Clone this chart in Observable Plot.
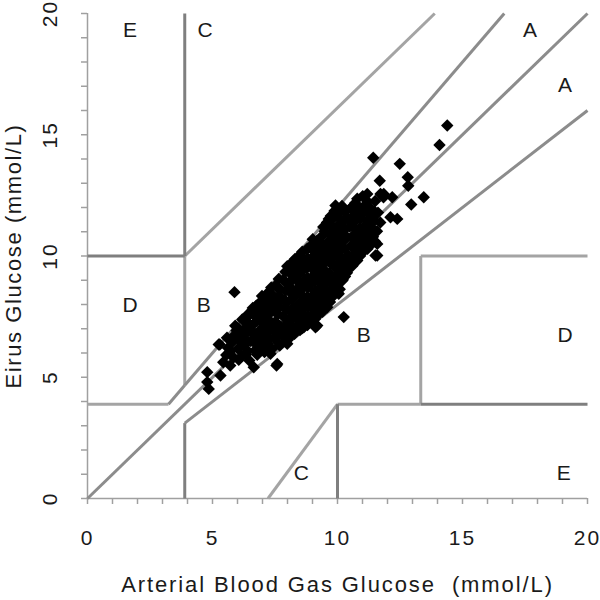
<!DOCTYPE html>
<html><head><meta charset="utf-8">
<script src="https://cdn.jsdelivr.net/npm/d3@7"></script>
<script src="https://cdn.jsdelivr.net/npm/@observablehq/plot@0.6"></script>
<style>body{margin:0;background:#fff}</style>
</head><body><div id="chart"></div>
<script>
// Tick labels (mmol/L)
const xTicks = [0, 5, 10, 15, 20];
const yTicks = [0, 5, 10, 15, 20];
const minorTicks = [0,1,2,3,4,5,6,7,8,9,10,11,12,13,14,15,16,17,18,19,20];

// Clarke error grid boundaries (mmol/L)
const diagonalLines = [
  {x1: 0, y1: 0, x2: 20, y2: 20},
  {x1: 3.24, y1: 3.89, x2: 3.89, y2: 4.67},
  {x1: 3.89, y1: 4.67, x2: 16.67, y2: 20},
  {x1: 3.89, y1: 3.11, x2: 20, y2: 16}
];
const lightLines = [
  {x1: 3.89, y1: 10, x2: 13.89, y2: 20},
  {x1: 3.89, y1: 4.67, x2: 3.89, y2: 10},
  {x1: 0, y1: 3.89, x2: 3.24, y2: 3.89},
  {x1: 7.22, y1: 0, x2: 10, y2: 3.89},
  {x1: 10, y1: 3.89, x2: 13.33, y2: 3.89},
  {x1: 13.33, y1: 3.89, x2: 13.33, y2: 10},
  {x1: 13.33, y1: 10, x2: 20, y2: 10}
];
const darkLines = [
  {x1: 3.89, y1: 10, x2: 3.89, y2: 20},
  {x1: 0, y1: 10, x2: 3.89, y2: 10},
  {x1: 3.89, y1: 0, x2: 3.89, y2: 3.11},
  {x1: 10, y1: 0, x2: 10, y2: 3.89},
  {x1: 13.33, y1: 3.89, x2: 20, y2: 3.89}
];

// Zone labels
const zoneNames = ["E", "C", "A", "A", "D", "B", "B", "D", "C", "E"];
const zoneX = [1.7, 4.7, 17.7, 19.1, 1.7, 4.65, 11.05, 19.1, 8.55, 19.05];
const zoneY = [19.3, 19.3, 19.3, 17.05, 7.95, 7.95, 6.72, 6.72, 1.05, 1.05];

// Measurements: [arterial blood gas glucose, Eirus glucose]
const outliers = [
  [14.39,15.38],[14.08,14.58],[12.49,13.80],[11.69,13.10],[11.43,14.05],[12.81,13.25],
  [12.83,12.90],[13.45,12.42],[12.95,12.12],[11.84,12.42],[11.59,10.02],[11.59,10.50],
  [12.39,11.53],[9.92,12.08],[9.65,11.53],[10.79,12.36],[11.19,12.56],[11.72,12.56],
  [12.19,12.42],[11.85,12.56],[12.12,11.60],[11.32,11.05],[11.52,10.02],[10.25,7.48],
  [9.12,7.06],[5.88,8.51],[5.25,6.35],[4.79,5.21],[4.85,4.52],[4.79,4.80],[5.32,5.07],
  [5.43,5.62],[6.05,5.72],[6.65,5.41],[7.56,5.48],[7.59,5.55],[6.59,7.75],[6.12,6.79],
  [5.29,6.35],[7.32,5.97],[7.99,6.38],[8.65,7.06],[9.19,7.13],[9.59,7.89],[10.05,8.44],
  [10.19,8.99],[10.39,9.40],[10.79,9.81]
];
const cluster = [
  [5.55,5.92],[5.62,6.21],[5.71,5.48],[5.58,6.63],[5.84,5.81],[5.79,6.44],[5.96,6.93],[5.91,7.12],[6.02,6.18],
  [6.18,5.88],[6.27,6.31],[6.21,6.72],[6.33,7.04],[6.19,7.38],[6.47,5.69],[6.41,6.08],[6.53,6.49],[6.58,6.83],[6.46,7.21],[6.39,7.57],[6.61,7.86],
  [6.79,5.93],[6.88,6.22],[6.81,6.61],[6.93,6.97],[6.77,7.31],[6.91,7.68],[6.84,8.02],
  [7.08,6.04],[7.19,6.38],[7.12,6.79],[7.23,7.12],[7.06,7.49],[7.17,7.83],[7.11,8.18],[7.24,8.51],
  [7.38,6.17],[7.51,6.62],[7.43,6.93],[7.52,7.28],[7.36,7.71],[7.49,8.04],[7.41,8.38],[7.53,8.79],
  [7.69,6.31],[7.82,6.71],[7.73,7.09],[7.84,7.52],[7.67,7.88],[7.79,8.23],[7.72,8.62],[7.83,9.02],
  [7.98,6.52],[8.09,6.91],[8.02,7.28],[8.13,7.71],[7.97,8.07],[8.11,8.49],[8.04,8.88],[8.12,9.27],[7.99,9.58],
  [8.28,6.79],[8.41,7.12],[8.33,7.53],[8.39,7.92],[8.27,8.31],[8.43,8.68],[8.31,9.09],[8.38,9.52],[8.29,9.87],
  [8.58,7.02],[8.69,7.39],[8.62,7.81],[8.71,8.19],[8.57,8.62],[8.73,9.03],[8.61,9.41],[8.68,9.79],[8.59,10.18],
  [8.88,7.28],[9.01,7.62],[8.93,8.02],[9.04,8.41],[8.87,8.79],[9.02,9.18],[8.91,9.62],[9.03,9.98],[8.89,10.37],[9.01,10.69],
  [9.18,7.52],[9.31,7.91],[9.22,8.28],[9.33,8.72],[9.19,9.08],[9.28,9.51],[9.21,9.89],[9.32,10.31],[9.17,10.62],
  [9.48,7.93],[9.61,8.21],[9.52,8.63],[9.63,9.01],[9.47,9.42],[9.58,9.81],[9.51,10.22],[9.62,10.59],[9.49,11.02],[9.58,11.38],
  [9.79,8.31],[9.91,8.72],[9.82,9.08],[9.93,9.52],[9.78,9.91],[9.89,10.28],[9.81,10.71],[9.92,11.09],[9.77,11.49],[9.88,11.86],
  [10.09,8.63],[10.21,9.02],[10.12,9.41],[10.23,9.79],[10.08,10.21],[10.19,10.62],[10.11,10.98],[10.22,11.42],[10.07,11.79],[10.18,12.06],
  [10.38,9.31],[10.51,9.62],[10.42,10.03],[10.53,10.41],[10.37,10.79],[10.49,11.21],[10.41,11.58],[10.52,11.97],
  [10.68,9.79],[10.81,10.18],[10.72,10.61],[10.83,10.98],[10.67,11.42],[10.79,11.81],[10.71,12.19],
  [10.98,10.12],[11.11,10.49],[11.02,10.91],[11.13,11.28],[10.97,11.71],[11.09,12.08],[11.01,12.47],
  [11.28,10.41],[11.42,10.79],[11.31,11.22],[11.38,11.61],[11.27,12.02],
  [11.58,11.02],[11.71,11.38],[11.62,11.79],[11.51,12.27]
];
const clusterCore = [
  [5.7,6.05],[5.85,6.7],[6.1,6.5],[6.05,7.0],[6.35,5.95],[6.3,6.6],[6.4,6.9],[6.3,7.35],[6.5,7.6],[6.7,6.1],[6.65,6.45],[6.7,6.8],[6.6,7.15],[6.72,7.5],[6.75,7.95],
  [6.98,6.12],[7.0,6.55],[6.97,6.88],[7.02,7.25],[6.99,7.62],[7.01,8.05],[6.98,8.35],
  [7.3,6.25],[7.28,6.6],[7.33,6.98],[7.29,7.32],[7.31,7.68],[7.27,8.02],[7.32,8.35],[7.35,8.7],
  [7.6,6.45],[7.62,6.85],[7.58,7.22],[7.61,7.6],[7.6,7.95],[7.63,8.32],[7.59,8.7],[7.65,9.05],
  [7.9,6.65],[7.91,7.05],[7.89,7.45],[7.92,7.82],[7.88,8.2],[7.93,8.58],[7.9,8.95],[7.92,9.35],
  [8.2,6.75],[8.21,7.1],[8.18,7.45],[8.22,7.85],[8.19,8.25],[8.2,8.62],[8.17,9.0],[8.23,9.4],[8.2,9.75],
  [8.5,6.95],[8.49,7.3],[8.52,7.68],[8.48,8.05],[8.51,8.45],[8.5,8.85],[8.47,9.25],[8.53,9.65],[8.5,10.05],
  [8.8,7.15],[8.79,7.5],[8.81,7.9],[8.78,8.3],[8.82,8.7],[8.8,9.1],[8.77,9.5],[8.81,9.9],[8.79,10.3],
  [9.1,7.4],[9.11,7.78],[9.09,8.15],[9.12,8.55],[9.08,8.95],[9.1,9.35],[9.13,9.75],[9.09,10.15],[9.11,10.5],
  [9.4,7.7],[9.39,8.05],[9.41,8.45],[9.38,8.85],[9.42,9.25],[9.4,9.65],[9.37,10.05],[9.41,10.45],[9.4,10.85],[9.43,11.2],
  [9.7,8.1],[9.69,8.5],[9.71,8.9],[9.68,9.3],[9.72,9.7],[9.7,10.1],[9.67,10.5],[9.71,10.9],[9.69,11.3],[9.73,11.65],
  [10.0,8.5],[9.99,8.85],[10.01,9.25],[9.98,9.65],[10.02,10.05],[10.0,10.45],[9.97,10.85],[10.01,11.25],[9.99,11.65],
  [10.3,9.15],[10.29,9.5],[10.31,9.9],[10.28,10.3],[10.32,10.7],[10.3,11.1],[10.27,11.5],[10.31,11.85],
  [10.6,9.6],[10.59,10.0],[10.61,10.4],[10.58,10.8],[10.62,11.2],[10.6,11.6],[10.57,12.0],
  [10.9,10.0],[10.89,10.35],[10.91,10.75],[10.88,11.15],[10.92,11.55],[10.9,11.95],
  [11.2,10.3],[11.19,10.7],[11.21,11.05],[11.18,11.45],[11.22,11.85],[11.2,12.25],
  [11.5,10.6],[11.49,11.0],[11.48,11.45],[11.47,11.85]
];

const xTitle = "Arterial Blood Gas Glucose \u00a0(mmol/L)";
const yTitle = "Eirus Glucose (mmol/L)";

const points = outliers.concat(cluster, clusterCore).map(([x, y]) => ({x, y}));
const zones = zoneNames.map((t, i) => ({t, x: zoneX[i], y: zoneY[i]}));
const seg = {x1: "x1", y1: "y1", x2: "x2", y2: "y2"};
const mid = {textAnchor: "middle", lineAnchor: "middle"};

const chart = Plot.plot({
  width: 600, height: 600,
  marginLeft: 87, marginRight: 13, marginTop: 13, marginBottom: 102,
  x: {domain: [0, 20], label: null},
  y: {domain: [0, 20], label: null},
  style: {fontFamily: "'Liberation Sans', Arial, sans-serif", background: "white", overflow: "visible"},
  marks: [
    Plot.axisX({ticks: minorTicks, tickSize: 6, tickFormat: () => "", stroke: "#a0a0a0", strokeWidth: 1.5, label: null}),
    Plot.axisY({ticks: minorTicks, tickSize: 6, tickFormat: () => "", stroke: "#a0a0a0", strokeWidth: 1.5, label: null}),
    Plot.ruleX([0], {stroke: "#a0a0a0", strokeWidth: 1.5}),
    Plot.ruleY([0], {stroke: "#a0a0a0", strokeWidth: 1.5}),
    Plot.link(lightLines, {...seg, stroke: "#a4a4a4", strokeWidth: 3}),
    Plot.link(darkLines, {...seg, stroke: "#7f7f7f", strokeWidth: 3}),
    Plot.link(diagonalLines, {...seg, stroke: "#8c8c8c", strokeWidth: 3}),
    Plot.dot(points, {x: "x", y: "y", symbol: "diamond2", r: 5.6, fill: "#000", stroke: "none"}),
    Plot.text(zones, {x: "x", y: "y", text: "t", fontSize: 21, fill: "#1a1a1a", ...mid}),
    Plot.text(xTicks, {x: d => d, text: d => String(d), frameAnchor: "bottom", dy: 40, fontSize: 21, fill: "#1a1a1a", ...mid, ariaDescription: "ticklabels"}),
    Plot.text(yTicks, {y: d => d, text: d => String(d), frameAnchor: "left", dx: -37, rotate: -90, fontSize: 21, fill: "#1a1a1a", ...mid, ariaDescription: "ticklabels"}),
    Plot.text([xTitle], {text: d => d, frameAnchor: "bottom", dy: 86, fontSize: 22, fill: "#1a1a1a", ...mid, ariaDescription: "xtitle"}),
    Plot.text([yTitle], {text: d => d, frameAnchor: "left", dx: -74, rotate: -90, fontSize: 22, fill: "#1a1a1a", ...mid, ariaDescription: "ytitle"})
  ]
});
const svg = d3.select(chart);
svg.selectAll('[aria-description="ticklabels"]').style("letter-spacing", "2px");
svg.selectAll('[aria-description="xtitle"]').style("letter-spacing", "1.9px");
svg.selectAll('[aria-description="ytitle"]').style("letter-spacing", "1.6px");
document.getElementById("chart").appendChild(chart);
</script>
</body></html>
